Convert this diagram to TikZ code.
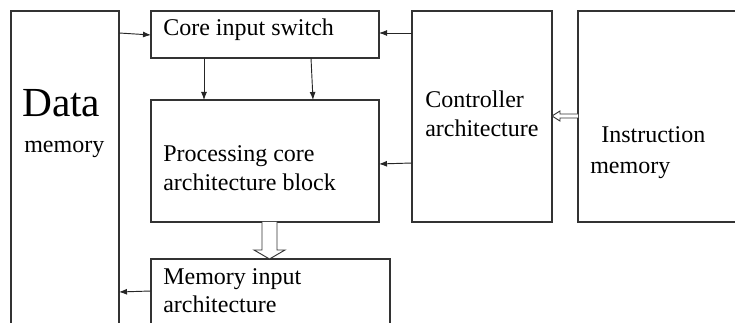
\documentclass[tikz,border=0pt]{standalone}
\usepackage{fontspec}
\setmainfont{Liberation Serif}
\usetikzlibrary{arrows.meta,calc}
\tikzset{
  blk/.style={rectangle,draw=black!80,line width=0.8pt,inner sep=0pt,outer sep=0pt,anchor=north west},
  txt/.style={anchor=base west,inner sep=0pt,font=\fontsize{18}{21.75}\selectfont},
  sig/.style={draw=black!85,line width=0.7pt,-{Latex[length=6pt,width=4.5pt]}},
  hollow/.style={draw=black!80,line width=0.7pt,fill=white}
}
\begin{document}
\begin{tikzpicture}[x=0.75pt,y=-0.75pt]
\clip (0,0) rectangle (735,323);
% blocks
\node[blk,minimum width=81pt,minimum height=250.5pt] (datamem) at (11,11) {};
\node[blk,minimum width=171pt,minimum height=35.25pt] (cis) at (151,11) {};
\node[blk,minimum width=171pt,minimum height=91.5pt] (proc) at (151,100) {};
\node[blk,minimum width=179.25pt,minimum height=64.5pt] (memin) at (151,259) {};
\node[blk,minimum width=105pt,minimum height=158.25pt] (ctrl) at (412,11) {};
\node[blk,minimum width=135pt,minimum height=158.25pt] (instmem) at (578,11) {};
% labels
\node[txt,font=\fontsize{31}{36}\selectfont] (tdata) at (22,117) {Data};
\node[txt] (tdatamem) at (24,153) {memory};
\node[txt] (tcis) at (163,36) {Core input switch};
\node[txt] (tproc1) at (163,162) {Processing core};
\node[txt] (tproc2) at (163,191) {architecture block};
\node[txt] (tmemin1) at (163,285) {Memory input};
\node[txt] (tmemin2) at (163,313) {architecture};
\node[txt] (tctrl1) at (425,108) {Controller};
\node[txt] (tctrl2) at (425,137) {architecture};
\node[txt] (tinst1) at (601,143) {Instruction};
\node[txt] (tinst2) at (590,174) {memory};
% signals
\draw[sig] ($(datamem.north east)+(0,22)$) -- ($(cis.north west)+(0,24)$);
\draw[sig] ($(ctrl.north west)+(0,22)$) -- ($(cis.north east)+(0,22)$);
\draw[sig] ($(cis.south west)+(53,0)$) -- ($(proc.north west)+(53,0)$);
\draw[sig] ($(cis.south west)+(160,0)$) -- ($(proc.north west)+(162,0)$);
\draw[sig] ($(ctrl.north west)+(0,152)$) -- ($(proc.north east)+(0,64)$);
\draw[sig] ($(memin.north west)+(0,32)$) -- ($(datamem.north east)+(0,281)$);
% wide arrows
\draw[hollow] ($(proc.south)+(-3,0)$) -- ++(0,28) -- ++(-8,0) -- ++(15.5,9)
  -- ++(15.5,-9) -- ++(-8,0) -- ++(0,-28);
\draw[hollow] ($(instmem.north west)+(0,103)$) -- ++(-18,0) -- ++(0,-3) -- ++(-8,5)
  -- ++(8,5) -- ++(0,-3) -- ++(18,0);
\end{tikzpicture}
\end{document}
